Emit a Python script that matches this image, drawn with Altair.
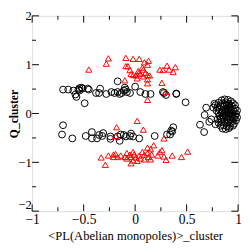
import altair as alt
import pandas as pd

# black circles
circ_x = [
    -0.70, -0.65, -0.60, -0.58, -0.57, -0.55, -0.54, -0.52, -0.54, -0.51, -0.46, -0.45, -0.49,
    -0.38, -0.34, -0.35, -0.28, -0.23, -0.20, -0.17, -0.17, -0.15, -0.13, -0.11, -0.10, -0.09,
    -0.08, -0.05, 0.00, 0.05, 0.10, 0.15, 0.27, 0.30, 0.28, 0.40, 0.40, 0.49,
    -0.70, -0.71, -0.61, -0.48, -0.42, -0.42, -0.37, -0.35, -0.31, -0.32, -0.24, -0.24, -0.15,
    -0.17, -0.14, -0.11, -0.09, -0.05, -0.04, -0.02, 0.04, 0.19, 0.31, 0.35, 0.37, 0.36, 0.34,
    0.84, 0.87, 0.90, 0.93, 0.81, 0.85, 0.88, 0.91, 0.95, 0.97,
    0.78, 0.80, 0.83, 0.86, 0.89, 0.92, 0.94, 0.97, 0.99,
    0.79, 0.82, 0.85, 0.88, 0.91, 0.93, 0.96, 0.98,
    0.81, 0.84, 0.87, 0.90, 0.92, 0.95, 0.97, 0.99,
    0.82, 0.85, 0.88, 0.91, 0.94, 0.96,
    0.80, 0.83, 0.86, 0.89, 0.92, 0.95, 0.98,
    0.81, 0.84, 0.87, 0.90, 0.93, 0.96,
    0.83, 0.86, 0.89, 0.92, 0.95,
    0.85, 0.88, 0.91,
    0.87, 0.90, 0.86, 0.89, 0.93, 0.88, 0.91, 0.84,
    0.77, 0.76, 0.69, 0.675, 0.63, 0.67, 0.72, 0.74, 0.78,
]
circ_y = [
    0.49, 0.49, 0.47, 0.39, 0.34, 0.49, 0.52, 0.53, 0.47, 0.51, 0.51, 0.49, 0.21,
    0.42, 0.51, 0.42, 0.40, 0.44, 0.42, 0.44, 0.66, 0.40, 0.42, 0.47, 0.53, 0.49,
    0.44, 0.42, 0.55, 0.44, 0.40, 0.40, 0.44, 0.38, 0.42, 0.40, 0.41, 0.23,
    -0.24, -0.43, -0.51, -0.46, -0.38, -0.51, -0.51, -0.44, -0.40, -0.46, -0.47, -0.52, -0.56,
    -0.47, -0.43, -0.44, -0.47, -0.46, -0.41, -0.47, -0.51, -0.46, -0.43, -0.35, -0.28, -0.37, -0.43,
    0.27, 0.29, 0.28, 0.25, 0.22, 0.21, 0.23, 0.20, 0.21, 0.17,
    0.17, 0.13, 0.16, 0.14, 0.16, 0.13, 0.15, 0.10, 0.06,
    0.06, 0.08, 0.07, 0.09, 0.06, 0.08, 0.04, 0.00,
    0.01, 0.02, 0.03, 0.01, 0.02, -0.01, -0.05, -0.08,
    -0.05, -0.04, -0.03, -0.05, -0.06, -0.10,
    -0.12, -0.10, -0.09, -0.11, -0.12, -0.15, -0.14,
    -0.19, -0.17, -0.16, -0.18, -0.20, -0.21,
    -0.25, -0.24, -0.26, -0.27, -0.25,
    -0.31, -0.32, -0.30,
    0.19, 0.10, -0.01, -0.07, -0.02, 0.05, 0.17, -0.13,
    0.20, 0.12, 0.12, -0.03, -0.23, -0.38, -0.17, -0.12, -0.22,
]

# red triangles
tri_x = [
    -0.45, -0.26, -0.28, -0.09, -0.02, 0.04, 0.13, 0.12, 0.09, -0.09, -0.07, -0.05, -0.04,
    -0.02, 0.01, 0.03, 0.07, 0.05, 0.08, 0.10, 0.12, 0.14, 0.02, -0.10, 0.12, 0.12, 0.24,
    0.27, 0.31, 0.33, 0.39, 0.37, 0.26, 0.30, 0.12, 0.08, 0.04,
    0.02, -0.18, 0.08, -0.19, -0.33, -0.29, -0.21, -0.19, -0.21, -0.08, -0.10, -0.05, -0.04,
    -0.02, -0.04, -0.01, 0.01, 0.04, 0.05, 0.09, 0.12, 0.15, 0.18, 0.16, 0.13, 0.15, 0.24,
    0.26, 0.28, 0.30, 0.36, 0.28, 0.45, 0.51, 0.02, -0.08, 0.07, -0.26, -0.17, -0.02, 0.12,
    0.09, 0.22, -0.14,
]
tri_y = [
    0.90, 1.13, 1.02, 1.14, 1.12, 1.12, 1.08, 1.00, 1.05, 0.97, 0.97, 0.89, 0.81,
    0.79, 0.78, 0.87, 0.94, 0.81, 0.76, 0.83, 0.79, 0.78, 0.72, 0.68, 0.70, 0.62, 0.90,
    0.89, 0.98, 0.90, 0.95, 0.85, 0.63, 0.44, 0.28, 0.90, 0.84,
    -0.15, -0.28, -0.33, -0.46, -0.90, -1.05, -0.84, -0.83, -0.89, -0.81, -0.89, -0.84, -0.89,
    -0.96, -1.02, -0.84, -0.90, -0.86, -0.92, -0.84, -0.70, -0.73, -0.65, -0.84, -0.89, -0.94, -0.79,
    -0.75, -0.88, -0.95, -0.86, -0.51, -0.89, -0.78, -0.97, -0.92, -0.79, -0.86, -0.89, -0.79, -0.81,
    -0.94, -0.86, -0.86,
]

x_major = [-1, -0.5, 0, 0.5, 1]
x_minor = [-0.75, -0.25, 0.25, 0.75]
y_major = [-2, -1, 0, 1, 2]
y_minor = [-1.5, -0.5, 0.5, 1.5]

W, H = 213, 202
FONT = "Liberation Serif"

xs = alt.Scale(domain=[-1, 1], nice=False, zero=False)
ys = alt.Scale(domain=[-2, 2], nice=False, zero=False)

circ_df = pd.DataFrame({"x": circ_x, "y": circ_y})
tri_df = pd.DataFrame({"x": tri_x, "y": tri_y})

circles = alt.Chart(circ_df).mark_point(
    shape="circle", size=50, filled=False, color="black", strokeWidth=1, opacity=1
).encode(
    x=alt.X("x:Q", scale=xs, axis=alt.Axis(
        title="<PL(Abelian monopoles)>_cluster", values=x_major, format="~g",
        ticks=False, domain=False, grid=False, labelFont=FONT, labelFontSize=14,
        labelColor="black", titleFont=FONT, titleFontSize=13, titleFontWeight="normal",
        titleColor="black", labelPadding=2, titlePadding=3, labelFlush=False)),
    y=alt.Y("y:Q", scale=ys, axis=alt.Axis(
        title="Q_cluster", values=y_major, format="~g",
        ticks=False, domain=False, grid=False, labelFont=FONT, labelFontSize=13,
        labelColor="black", titleFont=FONT, titleFontSize=12, titleFontWeight="bold",
        titleColor="black", labelPadding=1, labelFlush=False,
        titleX=-15, titleY=H / 2, titleAngle=270, titleAlign="center",
        titleBaseline="alphabetic",
        labelBaseline=alt.condition("datum.value == -2", alt.value("bottom"), alt.value("middle")))),
)

triangles = alt.Chart(tri_df).mark_point(
    shape="triangle-up", size=40, filled=False, color="red", strokeWidth=1, opacity=1
).encode(x=alt.X("x:Q", scale=xs), y=alt.Y("y:Q", scale=ys))

def xticks(vals, length):
    df = pd.DataFrame({"x": vals})
    b = alt.Chart(df).mark_rule(color="black", strokeWidth=1).encode(
        x=alt.X("x:Q", scale=xs), y=alt.value(H), y2=alt.value(H - length))
    t = alt.Chart(df).mark_rule(color="black", strokeWidth=1).encode(
        x=alt.X("x:Q", scale=xs), y=alt.value(0), y2=alt.value(length))
    return [b, t]

def yticks(vals, length):
    df = pd.DataFrame({"y": vals})
    l = alt.Chart(df).mark_rule(color="black", strokeWidth=1).encode(
        y=alt.Y("y:Q", scale=ys), x=alt.value(0), x2=alt.value(length))
    r = alt.Chart(df).mark_rule(color="black", strokeWidth=1).encode(
        y=alt.Y("y:Q", scale=ys), x=alt.value(W), x2=alt.value(W - length))
    return [l, r]

layers = [circles, triangles] + xticks(x_major, 7) + xticks(x_minor, 4) + yticks(y_major, 7) + yticks(y_minor, 4)

chart = alt.layer(*layers).properties(
    width=W, height=H,
    autosize=alt.AutoSizeParams(type="none"),
    padding={"left": 25, "top": 4, "right": 3, "bottom": 35},
).configure_view(stroke="black", strokeWidth=1).configure(background="white")

chart.save("out.html", embed_options={"renderer": "svg", "actions": False})
